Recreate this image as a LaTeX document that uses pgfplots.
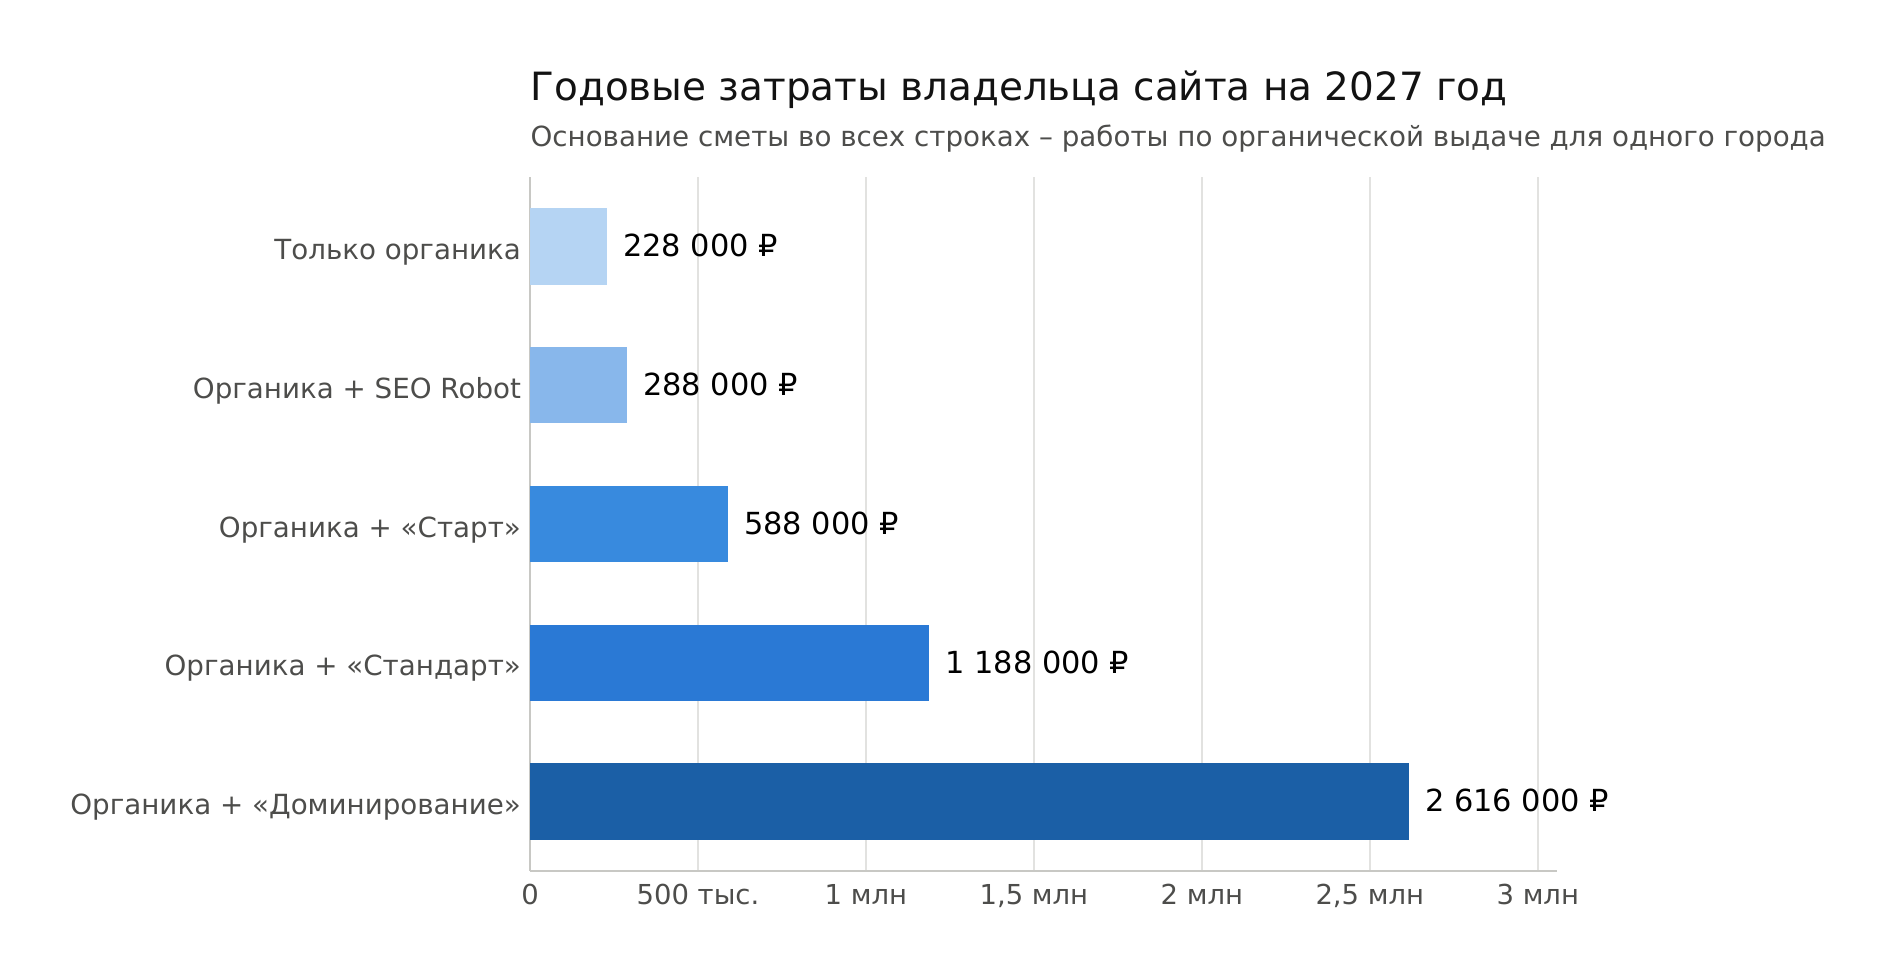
\documentclass[border=0pt]{standalone}
\usepackage{fontspec}
\setmainfont{DejaVu Sans}
\usepackage{pgfplots}
\pgfplotsset{compat=1.18}
\definecolor{barA}{HTML}{B5D4F3}
\definecolor{barB}{HTML}{88B7EB}
\definecolor{barC}{HTML}{388ADE}
\definecolor{barD}{HTML}{2A79D5}
\definecolor{barE}{HTML}{1B5FA6}
\definecolor{labgrey}{HTML}{4D4D4B}
\definecolor{spinegrey}{HTML}{C8C8C4}
\definecolor{gridgrey}{HTML}{E2E2E0}

\begin{document}
\begin{tikzpicture}
\useasboundingbox (0,0) rectangle (709.875pt,367.125pt);
\begin{axis}[
    at={(198.75pt,40.5pt)}, anchor=south west,
    scale only axis, width=385.1pt, height=260.25pt,
    xmin=0, xmax=3057000,
    ymin=-0.5, ymax=4.5,
    xbar, bar width=0.55, bar shift=0pt,
    clip=false,
    axis lines=left,
    axis line style={-, draw=spinegrey, line width=0.7pt},
    xmajorgrids, major grid style={draw=gridgrey, line width=0.6pt},
    major tick length=0pt,
    scaled x ticks=false,
    xtick={0,500000,1000000,1500000,2000000,2500000,3000000},
    xticklabels={0, 500 тыс., 1 млн, {1,5 млн}, 2 млн, {2,5 млн}, 3 млн},
    xticklabel style={anchor=base, inner sep=0pt, yshift=-12.4pt,
        font=\fontsize{10.3}{12}\selectfont, text=labgrey},
    ytick={0,1,2,3,4},
    yticklabels={Органика + «Доминирование», Органика + «Стандарт»,
        Органика + «Старт», Органика + SEO Robot, Только органика},
    yticklabel style={anchor=base east, inner sep=0pt, xshift=-3.2pt, yshift=-4.9pt,
        font=\fontsize{10.4}{12}\selectfont, text=labgrey},
    point meta=explicit symbolic,
    nodes near coords,
    nodes near coords style={anchor=base west, inner sep=0pt, xshift=6pt, yshift=-3.9pt,
        font=\fontsize{11.4}{13}\selectfont, text=black},
]
% one plot per bar so each gets its own shade
\addplot[fill=barA, draw=none] coordinates {(228000,4) [228 000 ₽]};
\addplot[fill=barB, draw=none] coordinates {(288000,3) [288 000 ₽]};
\addplot[fill=barC, draw=none] coordinates {(588000,2) [588 000 ₽]};
\addplot[fill=barD, draw=none] coordinates {(1188000,1) [1 188 000 ₽]};
\addplot[fill=barE, draw=none] coordinates {(2616000,0) [2 616 000 ₽]};
\end{axis}
\node[anchor=base west, inner sep=0pt, font=\fontsize{14.6}{17}\selectfont, text=black!93]
    at (198.75pt,329.4pt) {Годовые затраты владельца сайта на 2027 год};
\node[anchor=base west, inner sep=0pt, font=\fontsize{10.4}{12}\selectfont, text=labgrey]
    at (198.75pt,312pt) {Основание сметы во всех строках – работы по органической выдаче для одного города};
\end{tikzpicture}
\end{document}
